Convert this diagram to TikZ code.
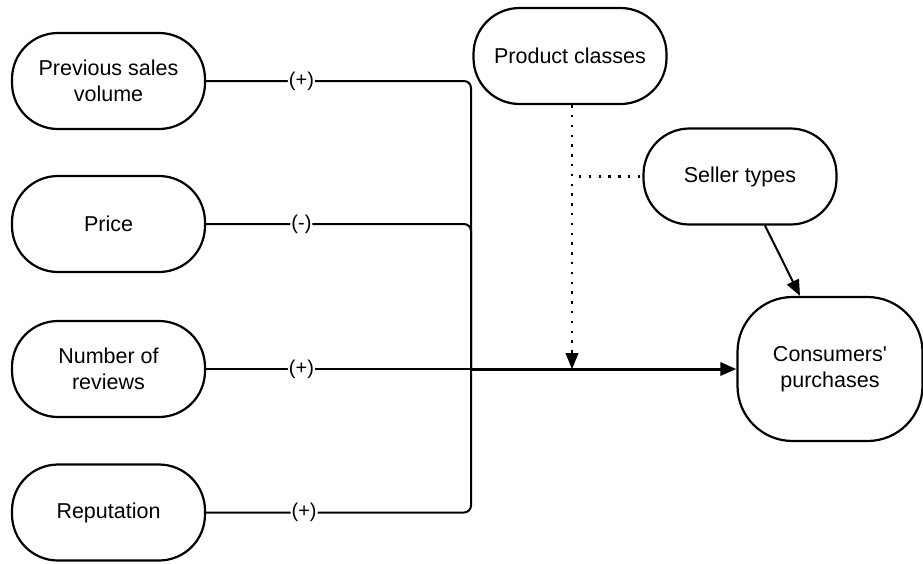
\documentclass[tikz,border=0pt]{standalone}
\usepackage{fontspec}
\setmainfont{Liberation Sans}
\usetikzlibrary{arrows.meta,calc}
\begin{document}
\begin{tikzpicture}[x=1pt,y=-1pt,
  factor/.style={draw, line width=2.2pt, rounded corners=46pt, align=center,
    minimum width=193pt, minimum height=96pt, inner sep=2pt, font=\fontsize{21.5}{26.5}\selectfont},
  conn/.style={line width=2pt, rounded corners=7pt},
  lab/.style={fill=white, inner sep=1pt, font=\fontsize{20}{22}\selectfont},
  mainarrow/.style={line width=3pt, -{Triangle[length=16pt,width=13pt]}},
  dots/.style={line width=2.4pt, dash pattern=on 2.4pt off 7.4pt},
  tip/.style={-{Triangle[length=16pt,width=13pt]}}]
\useasboundingbox (0,0) rectangle (923,563);

% factor boxes
\node[factor] (psv) at (108.5,81) {Previous sales\\volume};
\node[factor] (pr)  at (108.5,224) {Price};
\node[factor] (nr)  at (108.5,369) {Number of\\reviews};
\node[factor] (rep) at (108.5,512.5) {Reputation};
\node[factor] (pc)  at (570,56) {Product classes};
\node[factor] (st)  at (740,176.5) {Seller types};
\node[factor, minimum width=185pt, minimum height=144pt, rounded corners=55pt] (cp) at (830,369) {Consumers\textquotesingle\\purchases};

\coordinate (j) at (471,369);

% converging connectors
\draw[conn] (psv.east) -- node[lab,pos=0.36]{(+)} (psv.east -| j) -- (j);
\draw[conn] (pr.east) -- node[lab,pos=0.36]{(-)} (pr.east -| j) -- (j);
\draw[conn] (rep.east) -- node[lab,pos=0.37]{(+)} (rep.east -| j) -- (j);
\draw[conn] (nr.east) -- node[lab,pos=0.36]{(+)} (j);
\draw[mainarrow] (j) -- (cp.west);

% moderating influences
\coordinate (pcdown) at ($(pc.south)+(2,0)$);
\draw[dots] (pcdown) -- (pcdown |- st.west) -- (st.west);
\draw[dots] (pcdown) -- ($(pcdown |- j)+(0,-14)$);
\draw[line width=1pt, tip] ($(pcdown |- j)+(0,-16)$) -- (pcdown |- j);
\draw[line width=2pt, tip] ($(st.south)+(25,0)$) -- ($(cp.north)+(-30,0)$);
\end{tikzpicture}
\end{document}
